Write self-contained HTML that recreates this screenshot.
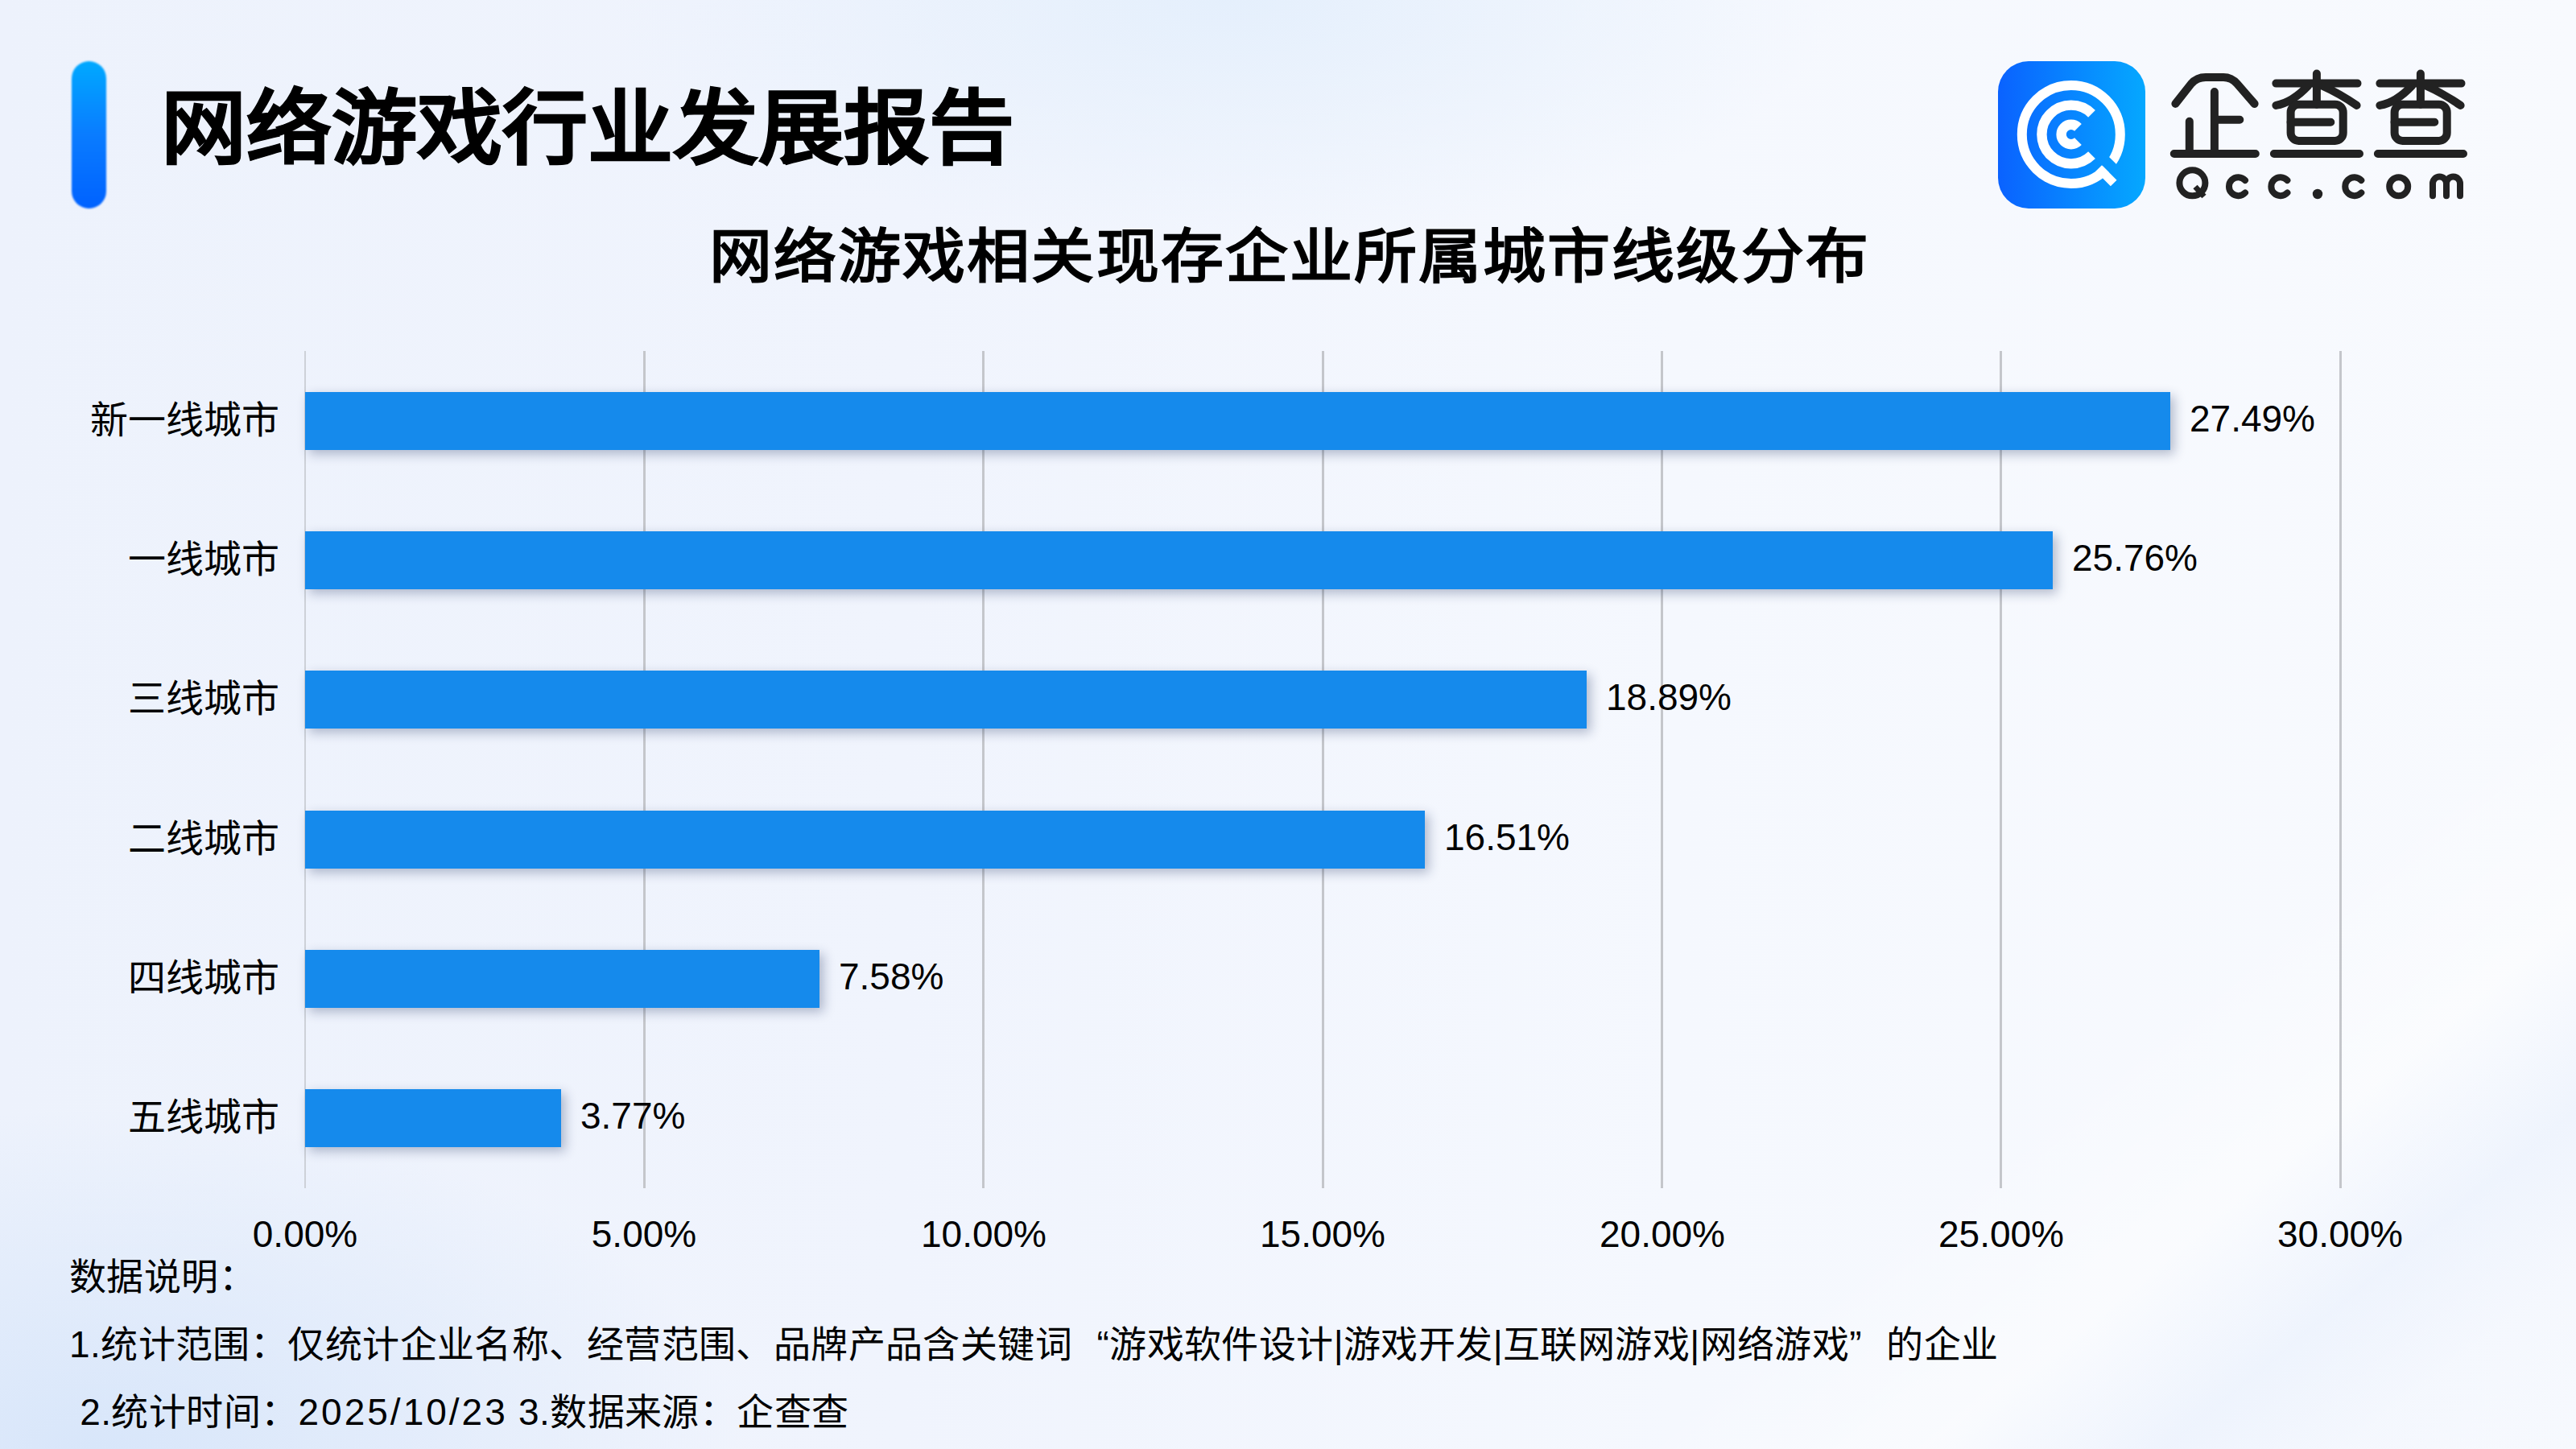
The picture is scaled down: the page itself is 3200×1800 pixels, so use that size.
<!DOCTYPE html>
<html lang="zh-CN">
<head>
<meta charset="utf-8">
<style>
html,body{margin:0;padding:0;}
body{width:3200px;height:1800px;position:relative;overflow:hidden;
font-family:"Liberation Sans",sans-serif;color:#000;
background:#F1F5FD;}
.bg{position:absolute;left:0;top:0;width:3200px;height:1800px;
background:
radial-gradient(ellipse 760px 300px at 1520px 0px, rgba(228,239,252,0.95), rgba(228,239,252,0) 100%),
radial-gradient(ellipse 800px 420px at 120px 1800px, rgba(216,230,250,1), rgba(216,230,250,0) 100%),
linear-gradient(140.7deg, rgba(255,255,255,0) 78%, rgba(255,255,255,0.4) 85%, rgba(228,237,252,0.45) 90.5%, rgba(238,243,253,0.3) 95%, rgba(240,245,253,0.2) 100%),
linear-gradient(90deg, #EDF2FC 0%, #F0F4FD 35%, #F5F8FE 65%, #F8FAFE 100%);}
.abs{position:absolute;white-space:nowrap;}
.pill{left:89px;top:76px;width:43px;height:183px;border-radius:22px;
background:linear-gradient(180deg,#00A9FF 0%,#0A7CFF 50%,#0062FF 100%);filter:blur(1px);}
.title{left:200px;top:100px;font-size:106px;line-height:120px;font-weight:900;letter-spacing:0px;transform:scaleY(0.952);transform-origin:0 54px;-webkit-text-stroke:1.2px #000;}
.subtitle{left:881px;top:271px;font-size:78px;line-height:96px;font-weight:700;letter-spacing:2.1px;transform:scaleY(0.935);transform-origin:0 44px;}
.grid{position:absolute;top:436px;height:1040px;width:3px;background:#C4C6CB;}
.bar{position:absolute;left:379px;height:72px;background:#158AEC;
box-shadow:5px 5px 13px rgba(20,40,90,0.30);}
.cat{position:absolute;right:2853px;font-size:47px;line-height:56px;text-align:right;}
.val{position:absolute;font-size:46px;line-height:56px;}
.tick{position:absolute;font-size:46px;line-height:56px;width:300px;text-align:center;}
.note{position:absolute;left:86px;font-size:46px;line-height:56px;letter-spacing:0.42px;}
.dg{letter-spacing:3px;}
.ql{display:inline-block;width:46px;text-align:right;}
.qr{display:inline-block;width:46px;text-align:left;}
</style>
</head>
<body>
<div class="bg"></div>
<div class="abs pill"></div>
<div class="abs title">网络游戏行业发展报告</div>

<!-- logo -->
<svg class="abs" style="left:0;top:0" width="3200" height="300" viewBox="0 0 3200 300">
  <defs>
    <linearGradient id="lg" x1="0" y1="0" x2="1" y2="0">
      <stop offset="0" stop-color="#0A62FF"/>
      <stop offset="1" stop-color="#05A8FF"/>
    </linearGradient>
    <mask id="mo" maskUnits="userSpaceOnUse" x="2470" y="60" width="210" height="210">
      <rect x="2470" y="60" width="210" height="210" fill="#fff"/>
      <g transform="translate(2572.8 167) rotate(45)">
        <rect x="0" y="-13.6" width="100" height="13.6" fill="#000"/>
      </g>
    </mask>
    <mask id="mm" maskUnits="userSpaceOnUse" x="2470" y="60" width="210" height="210">
      <rect x="2470" y="60" width="210" height="210" fill="#fff"/>
      <path d="M2572.8 167 L2672.8 67 L2672.8 267 Z" fill="#000"/>
    </mask>
    <mask id="mi" maskUnits="userSpaceOnUse" x="2470" y="60" width="210" height="210">
      <rect x="2470" y="60" width="210" height="210" fill="#fff"/>
      <rect x="2572.8" y="159.4" width="40" height="15.2" fill="#000"/>
    </mask>
  </defs>
  <rect x="2482" y="76" width="183" height="183" rx="38" fill="url(#lg)"/>
  <g fill="none" stroke="#fff">
    <circle cx="2572.8" cy="167" r="61" stroke-width="12" mask="url(#mo)"/>
    <circle cx="2572.8" cy="167" r="36.4" stroke-width="12.4" mask="url(#mm)"/>
    <circle cx="2572.8" cy="167" r="12.2" stroke-width="12.4" mask="url(#mm)"/>
  </g>
  <g transform="translate(2572.8 167) rotate(45)"><rect x="54" y="0" width="26.2" height="10.8" fill="#fff"/></g>
  <g fill="none" stroke="#222" stroke-width="10" stroke-linecap="round" stroke-linejoin="round">
    <path d="M2702.4,128.9 L2722,104 Q2729,95.9 2740,95.9 L2762,95.9 Q2772,95.9 2779,104 L2800.6,128.9"/>
    <path d="M2750.9,114 V191 M2750.9,148.7 H2782.3 M2719.8,150.8 V191 M2700.8,191 H2801.8"/>
    <g id="cha">
      <path d="M2827.4,103.6 H2928.5 M2877.9,91.6 V129.7 M2867.2,106.5 Q2847.3,127.5 2827.4,130.9 M2884.6,106.5 Q2906,116 2927.6,130.9 M2845.6,151.7 H2895.3 M2824.9,191 H2931"/>
      <rect x="2845.6" y="129.7" width="65.1" height="45.2" rx="10"/>
    </g>
    <use href="#cha" transform="translate(129 0)"/>
  </g>
  <g fill="none" stroke="#222" stroke-width="8" stroke-linecap="round">
    <circle cx="2723.4" cy="227.3" r="16"/>
    <path d="M2727,232 L2738,244" stroke-linecap="butt" stroke-width="7"/>
    <path d="M2789,224 A11.5,11.5 0 1 0 2789,239.4"/>
    <path d="M2841.4,224 A11.5,11.5 0 1 0 2841.4,239.4"/>
    <path d="M2933.3,224 A11.5,11.5 0 1 0 2933.3,239.4"/>
    <circle cx="2979.7" cy="231.7" r="11.5"/>
    <path d="M3022,243.2 V228 A8.5,8.5 0 0 1 3039,228 V243.2 M3039,228 A8.5,8.5 0 0 1 3056,228 V243.2"/>
  </g>
  <circle cx="2879" cy="241" r="6.2" fill="#222"/>
</svg>

<div class="abs subtitle">网络游戏相关现存企业所属城市线级分布</div>


<div class="grid" style="left:378px;width:2px;background:#CDD1D8"></div>
<div class="grid" style="left:799px"></div>
<div class="grid" style="left:1220px"></div>
<div class="grid" style="left:1642px"></div>
<div class="grid" style="left:2063px"></div>
<div class="grid" style="left:2484px"></div>
<div class="grid" style="left:2906px"></div>

<div class="bar" style="top:487px;width:2317px"></div>
<div class="bar" style="top:660px;width:2171px"></div>
<div class="bar" style="top:833px;width:1592px"></div>
<div class="bar" style="top:1007px;width:1391px"></div>
<div class="bar" style="top:1180px;width:639px"></div>
<div class="bar" style="top:1353px;width:318px"></div>

<div class="cat" style="top:494px">新一线城市</div>
<div class="cat" style="top:667px">一线城市</div>
<div class="cat" style="top:840px">三线城市</div>
<div class="cat" style="top:1014px">二线城市</div>
<div class="cat" style="top:1187px">四线城市</div>
<div class="cat" style="top:1360px">五线城市</div>

<div class="val" style="top:492px;left:2720px">27.49%</div>
<div class="val" style="top:665px;left:2574px">25.76%</div>
<div class="val" style="top:838px;left:1995px">18.89%</div>
<div class="val" style="top:1012px;left:1794px">16.51%</div>
<div class="val" style="top:1185px;left:1042px">7.58%</div>
<div class="val" style="top:1358px;left:721px">3.77%</div>

<div class="tick" style="top:1505px;left:229px">0.00%</div>
<div class="tick" style="top:1505px;left:650px">5.00%</div>
<div class="tick" style="top:1505px;left:1072px">10.00%</div>
<div class="tick" style="top:1505px;left:1493px">15.00%</div>
<div class="tick" style="top:1505px;left:1915px">20.00%</div>
<div class="tick" style="top:1505px;left:2336px">25.00%</div>
<div class="tick" style="top:1505px;left:2757px">30.00%</div>

<div class="note" style="top:1558px">数据说明：</div>
<div class="note" style="top:1642px">1.统计范围：仅统计企业名称、经营范围、品牌产品含关键词<span class="ql">“</span>游戏软件设计|游戏开发|互联网游戏|网络游戏<span class="qr">”</span>的企业</div>
<div class="note" style="top:1726px">&nbsp;2.统计时间：<span class="dg">2025/10/23</span> 3.数据来源：企查查</div>
</body>
</html>
